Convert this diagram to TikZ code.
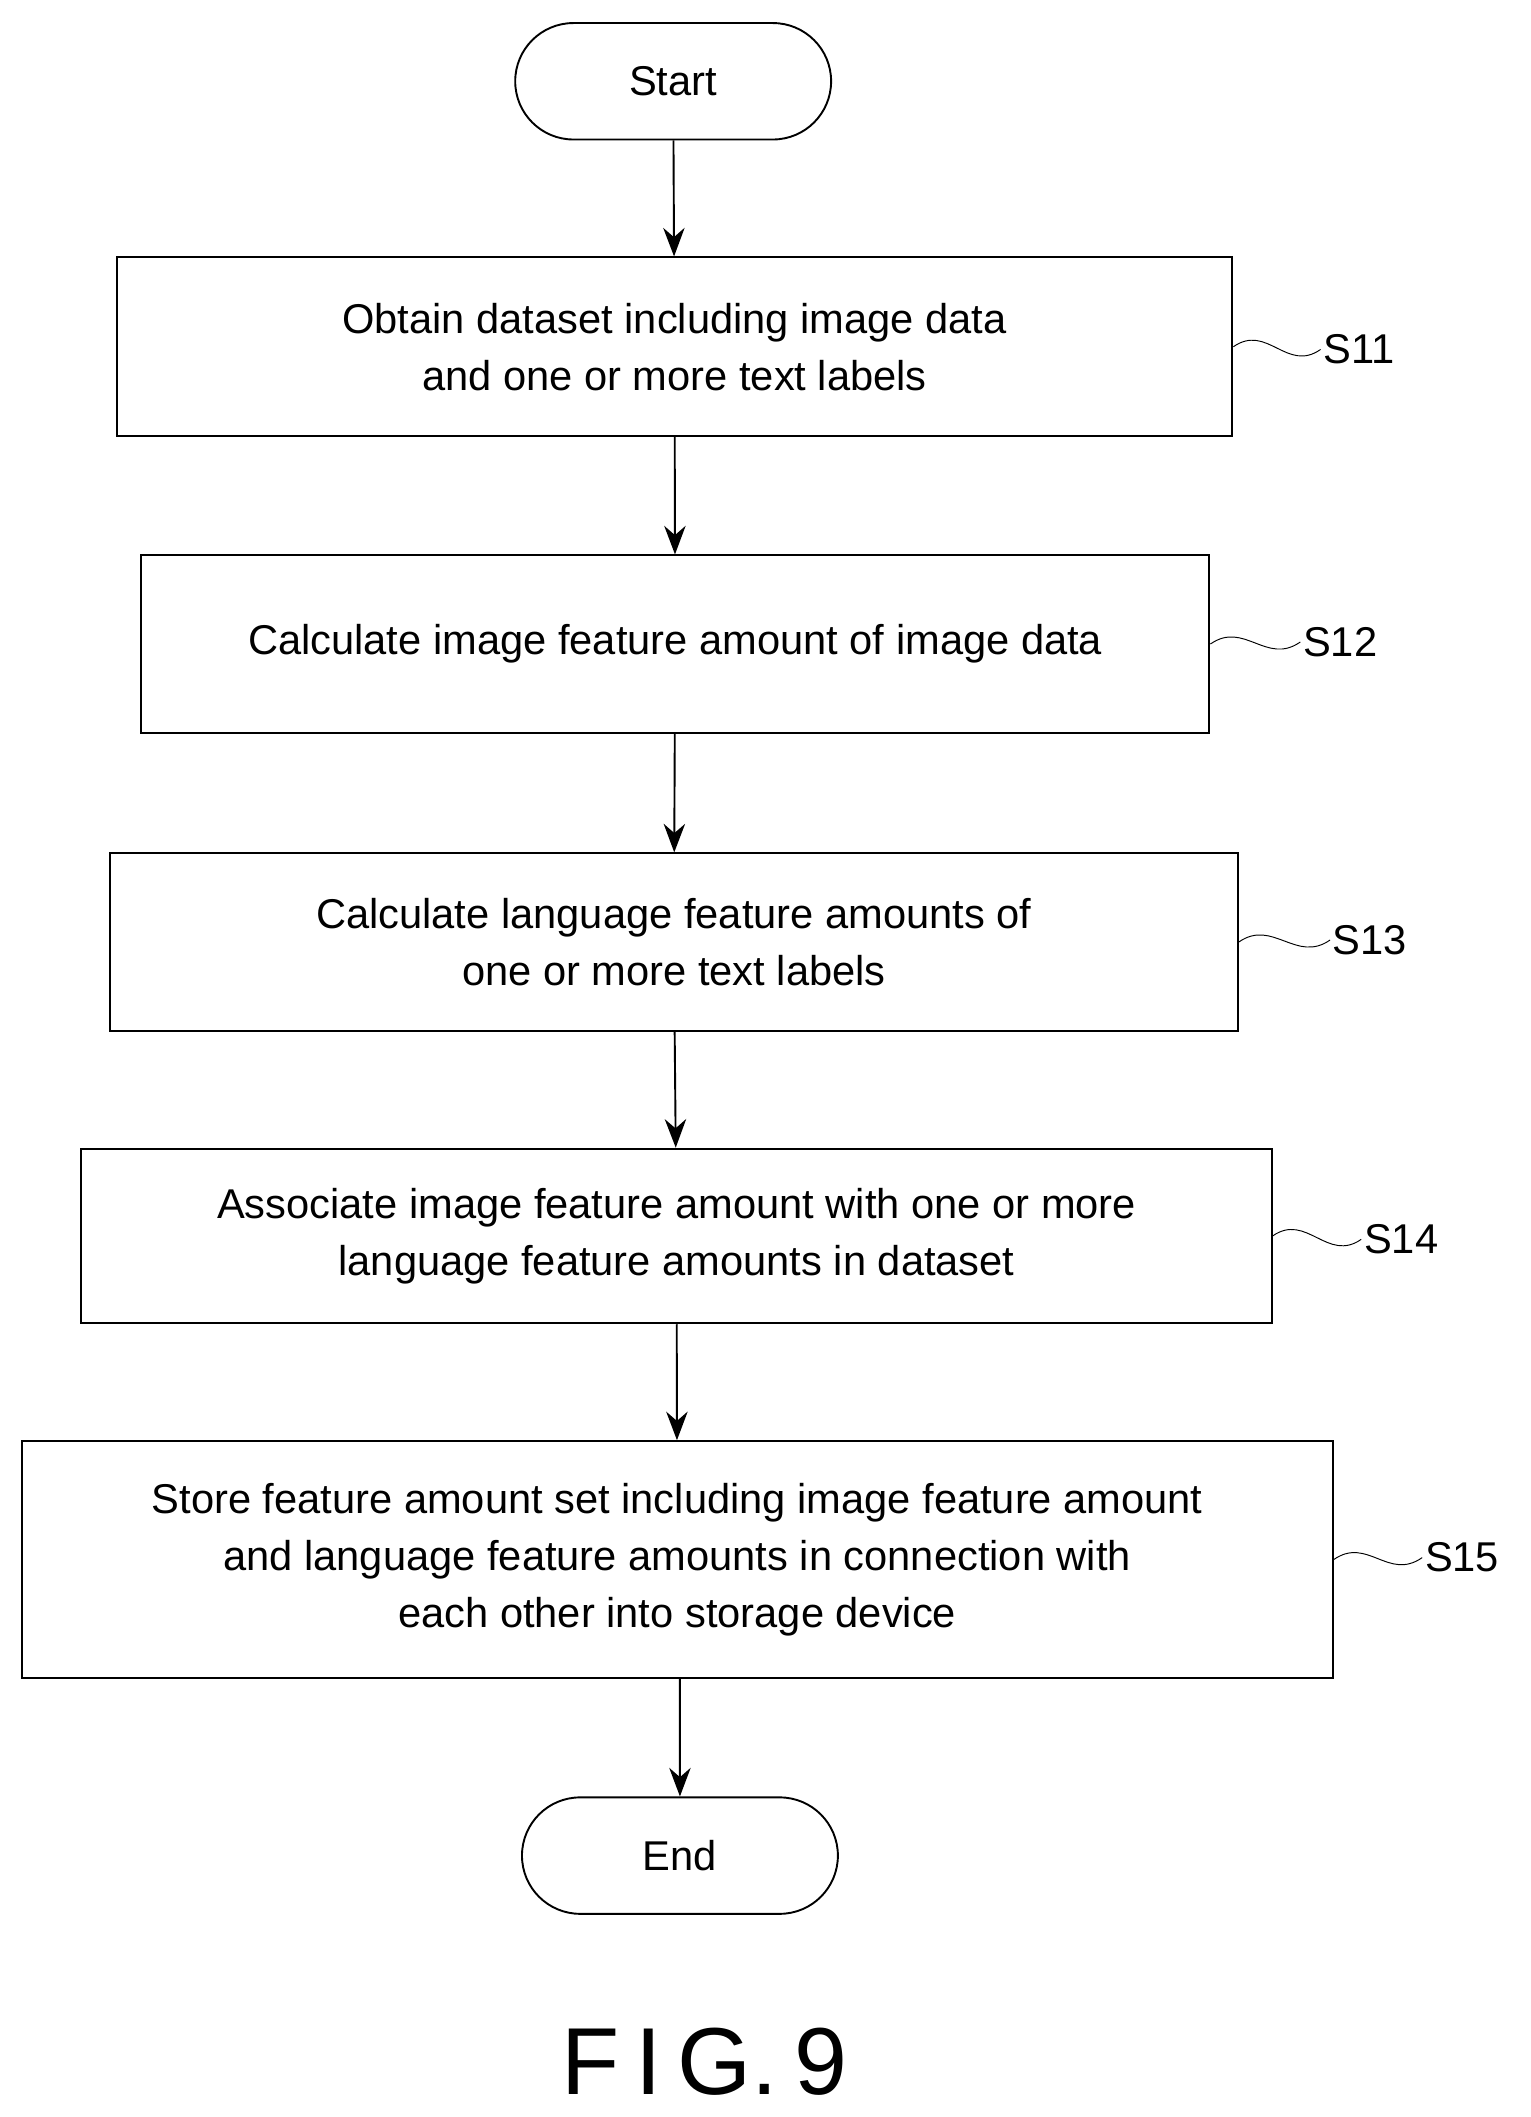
\documentclass[tikz,border=0pt]{standalone}
\usepackage{fontspec}
\setmainfont{Liberation Sans}
\usetikzlibrary{arrows.meta, positioning, shapes.misc}
\begin{document}
\begin{tikzpicture}[x=0.02cm, y=-0.02cm,
    every node/.style={font=\fontsize{17.5}{24}\selectfont},
    stepbox/.style={draw, thick, align=center, inner sep=0pt},
    term/.style={draw, thick, rounded rectangle, minimum width=4.9cm, minimum height=1.72cm},
    lab/.style={anchor=west, inner sep=1pt},
    arrow/.style={-{Stealth[length=12pt,width=9pt]}, thick},
    wave/.style={thin}
  ]
  \useasboundingbox (0,0) rectangle (1130,1563);

  \node[term] (start) at (497,60) {Start};
  \node[stepbox, minimum width=16.48cm, minimum height=2.64cm] (s11) at (498,256)
    {Obtain dataset including image data\\and one or more text labels};
  \node[stepbox, minimum width=15.78cm, minimum height=2.62cm] (s12) at (498.5,475.5)
    {Calculate image feature amount of image data};
  \node[stepbox, minimum width=16.66cm, minimum height=2.62cm] (s13) at (497.5,695.5)
    {Calculate language feature amounts of\\one or more text labels};
  \node[stepbox, minimum width=17.58cm, minimum height=2.58cm] (s14) at (499.5,912.5)
    {Associate image feature amount with one or more\\language feature amounts in dataset};
  \node[stepbox, minimum width=19.36cm, minimum height=3.5cm] (s15) at (500,1151.5)
    {Store feature amount set including image feature amount\\and language feature amounts in connection with\\each other into storage device};
  \node[term] (end) at (502,1370) {End};

  \node[lab] (l11) at (975,258) {S11};
  \node[lab] (l12) at (960,474) {S12};
  \node[lab] (l13) at (982,694) {S13};
  \node[lab] (l14) at (1005,915) {S14};
  \node[lab] (l15) at (1050,1150) {S15};

  \node[font=\fontsize{40}{44}\selectfont] (fig) at (520,1522) {F\,I\,G.\,9};

  \draw[arrow] (start) -- (s11);
  \draw[arrow] (s11) -- (s12);
  \draw[arrow] (s12) -- (s13);
  \draw[arrow] (s13) -- (s14);
  \draw[arrow] (s14) -- (s15);
  \draw[arrow] (s15.south -| end) -- (end);

  \foreach \b/\l in {s11/l11, s12/l12, s13/l13, s14/l14, s15/l15}
    \draw[wave] (\b.east) .. controls +(0.5cm,0.35cm) and +(-0.5cm,-0.35cm) .. (\l.west);
\end{tikzpicture}
\end{document}
